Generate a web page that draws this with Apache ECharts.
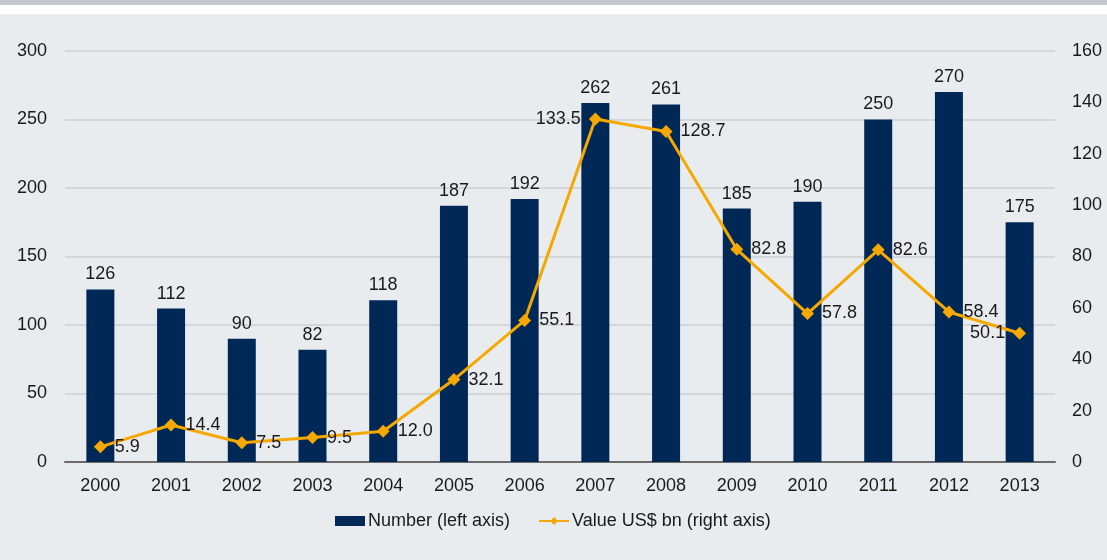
<!DOCTYPE html>
<html>
<head>
<meta charset="utf-8">
<script src="https://cdn.jsdelivr.net/npm/echarts@6/dist/echarts.min.js"></script>
<style>
html,body{margin:0;padding:0;}
body{width:1107px;height:560px;background:linear-gradient(to bottom,#c4c9d0 0px,#c4c9d0 5px,#ffffff 5px,#ffffff 14px,#e9ecef 14px,#e9ecef 100%);}
#chart{width:1107px;height:560px;}
</style>
</head>
<body>
<div id="chart"></div>
<script>
var years = ['2000','2001','2002','2003','2004','2005','2006','2007','2008','2009','2010','2011','2012','2013'];
var numberValues = [126,112,90,82,118,187,192,262,261,185,190,250,270,175];
var valueUSD = [5.9,14.4,7.5,9.5,12.0,32.1,55.1,133.5,128.7,82.8,57.8,82.6,58.4,50.1];
var leftLabelPos = ['2007','2013'];

var font = 'Liberation Sans, Arial, Helvetica, sans-serif';
var txt = '#1a1a1a';
var chart = echarts.init(document.getElementById('chart'), null, {renderer:'canvas'});
chart.setOption({
  backgroundColor: 'transparent',
  animation: false,
  textStyle: {fontFamily: font, color: txt},
  grid: {left: 65, right: 52, top: 51, bottom: 98, containLabel: false},
  legend: {
    left: 330, top: 507, itemWidth: 30, itemHeight: 10, itemGap: 28,
    textStyle: {fontFamily: font, fontSize: 18, color: txt, padding: [0,0,0,-2]},
    data: [
      {name: 'Number (left axis)', icon: 'rect'},
      {name: 'Value US$ bn (right axis)'}
    ]
  },
  xAxis: {
    type: 'category', data: years,
    axisLine: {lineStyle: {color: '#6b6b6b', width: 2}},
    axisTick: {show: false},
    axisLabel: {fontSize: 18, color: txt, margin: 15, fontFamily: font}
  },
  yAxis: [
    {type: 'value', min: 0, max: 300, interval: 50,
     axisLabel: {fontSize: 18, color: txt, margin: 18, fontFamily: font},
     axisLine: {show: false}, axisTick: {show: false},
     splitLine: {lineStyle: {color: '#d3d6da', width: 2}}},
    {type: 'value', min: 0, max: 160, interval: 20, position: 'right',
     axisLabel: {fontSize: 18, color: txt, margin: 17, fontFamily: font},
     axisLine: {show: false}, axisTick: {show: false},
     splitLine: {show: false}}
  ],
  series: [
    {name: 'Number (left axis)', type: 'bar', yAxisIndex: 0, data: numberValues,
     barWidth: 28, itemStyle: {color: '#002856'},
     label: {show: true, position: 'top', distance: 6, fontSize: 18, color: txt, fontFamily: font}},
    {name: 'Value US$ bn (right axis)', type: 'line', yAxisIndex: 1,
     data: valueUSD.map(function(v,i){
       var item = {value: v};
       if (leftLabelPos.indexOf(years[i]) >= 0) item.label = {position: 'left'};
       return item;
     }),
     z: 5,
     symbol: 'diamond', symbolSize: 13,
     lineStyle: {color: '#f5a900', width: 3},
     itemStyle: {color: '#f5a900'},
     label: {show: true, position: 'right', distance: 8, fontSize: 18, color: txt, fontFamily: font,
       formatter: function(p){ return Number(p.value).toFixed(1); }}}
  ]
});
</script>
</body>
</html>
